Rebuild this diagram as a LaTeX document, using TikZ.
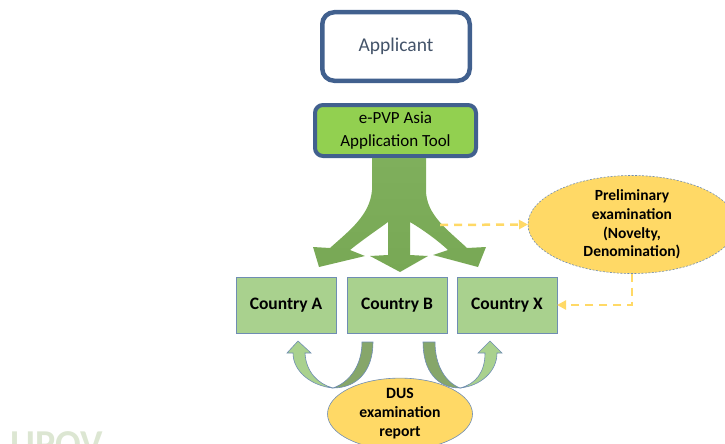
\documentclass[tikz,border=0pt]{standalone}
\usepackage{fontspec}
\setmainfont{Carlito}
\usetikzlibrary{shapes.geometric,arrows.meta}
\definecolor{boxblue}{HTML}{41608E}
\definecolor{txtblue}{HTML}{44546A}
\definecolor{toolgreen}{HTML}{92D050}
\definecolor{ctrygreen}{HTML}{A9D18E}
\definecolor{edgeblue}{HTML}{6F8DB3}
\definecolor{goldfill}{HTML}{FFD966}
\definecolor{darkband}{HTML}{86A66A}
\definecolor{wmark}{HTML}{DCE6D2}
\definecolor{arrtop}{HTML}{7FAF5C}
\definecolor{arrmid}{HTML}{679944}
\definecolor{arrbot}{HTML}{78A855}
\tikzset{
  applbox/.style={draw=boxblue,line width=4.5pt,rounded corners=12pt,fill=white,
    minimum width=147.5pt,minimum height=68.5pt,inner sep=0pt,outer sep=0pt,
    text=txtblue,font=\fontsize{19.5}{23}\selectfont},
  toolbox/.style={draw=boxblue,line width=4pt,rounded corners=8pt,fill=toolgreen,
    minimum width=161pt,minimum height=51pt,inner sep=0pt,outer sep=0pt,
    align=center,font=\fontsize{17}{23}\selectfont},
  ctrybox/.style={draw=edgeblue,line width=0.8pt,fill=ctrygreen,
    minimum width=100pt,minimum height=56pt,inner sep=0pt,outer sep=0pt,
    font=\bfseries\fontsize{17.5}{20}\selectfont},
  goldell/.style={ellipse,fill=goldfill,inner sep=0pt,outer sep=0pt,align=center},
  dashlink/.style={draw=goldfill,line width=2.5pt,dash pattern=on 8pt off 6pt,
    -{Triangle[length=9pt,width=9pt]}},
  uband/.style={fill=ctrygreen,draw=edgeblue,line width=0.6pt},
  uback/.style={fill=darkband,draw=edgeblue,line width=0.6pt}
}
\begin{document}
\begin{tikzpicture}[x=1pt,y=-1pt]
\useasboundingbox (0,0) rectangle (725,444);
\clip (0,0) rectangle (725,444);

% watermark
\node[anchor=base west,inner sep=0pt,text=wmark,font=\bfseries\fontsize{38}{40}\selectfont] (wm) at (10,456.5) {UPOV};

% boxes
\node[applbox] (appl) at (396,46.5) {Applicant};
\node[toolbox] (tool) at (395.5,130.5) {e-PVP Asia\\Application Tool};

% big branching arrow
\shade[top color=arrtop, middle color=arrmid, bottom color=arrbot]
  (372,158) -- (372,190) .. controls (370,215) and (350,230) .. (330,248)
  -- (313,247) -- (319,267) -- (365,256) -- (350,250)
  .. controls (365,238) and (380,228) .. (388,222)
  -- (388,255) -- (370,256) -- (400,272) -- (428,256) -- (410,255) -- (410,222)
  .. controls (420,228) and (435,238) .. (448,250)
  -- (433,255) -- (478,267) -- (486,247) -- (467,248)
  .. controls (448,230) and (426,215) .. (426,190) -- (426,158) -- cycle;
\coordinate (trunkR) at (440,225);

% country boxes
\node[ctrybox] (A) at (286,305) {Country A};
\node[ctrybox] (B) at (397,305) {Country B};
\node[ctrybox] (X) at (507,305) {Country X};

% preliminary examination
\node[goldell,draw=edgeblue,line width=0.6pt,dash pattern=on 2pt off 1.5pt,
  minimum width=208pt,minimum height=75pt,
  font=\bfseries\fontsize{15.5}{18.7}\selectfont] (pre) at (632,224.5)
  {Preliminary\\examination\\(Novelty,\\Denomination)};

\draw[dashlink] (trunkR) -- (pre.west);
\draw[dashlink] (pre.south) |- (X.east);

% U-turn arrows (left)
\filldraw[uback] (362,342) -- (373,342) .. controls (373,372) and (356,388) .. (333,388)
  .. controls (350,382) and (362,365) .. (362,342) -- cycle;
\filldraw[uband] (333,388) .. controls (312,386) and (293,372) .. (293,353)
  -- (287,353) -- (298,341) -- (311,353) -- (305,353)
  .. controls (306,372) and (318,384) .. (333,388) -- cycle;
% U-turn arrows (right)
\filldraw[uback] (423,342) -- (435,342) .. controls (435,365) and (445,382) .. (460,388)
  .. controls (438,388) and (423,372) .. (423,342) -- cycle;
\filldraw[uband] (460,388) .. controls (476,384) and (485,372) .. (485,353)
  -- (478,353) -- (490,341) -- (502,353) -- (497,353)
  .. controls (497,372) and (480,386) .. (460,388) -- cycle;

% DUS report
\node[goldell,draw=edgeblue,line width=0.6pt,minimum width=145pt,minimum height=64pt,
  font=\bfseries\fontsize{15.7}{19}\selectfont] (dus) at (400,414)
  {DUS\\examination\\report};
\end{tikzpicture}
\end{document}
